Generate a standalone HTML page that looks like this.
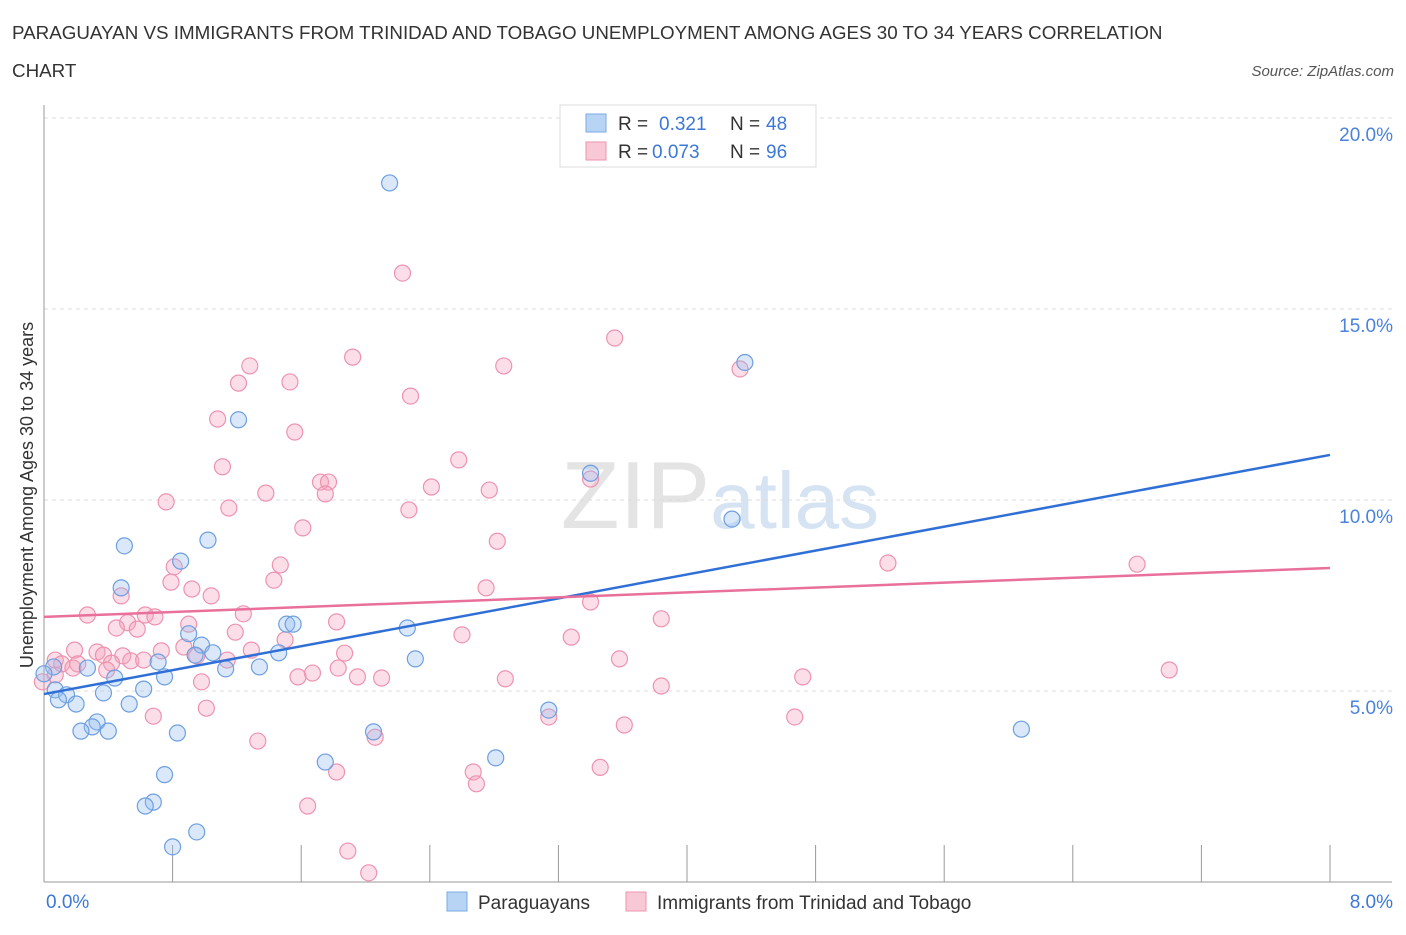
<!DOCTYPE html>
<html><head><meta charset="utf-8"><style>
body{margin:0;background:#fff;font-family:"Liberation Sans",sans-serif;}
svg text{font-family:"Liberation Sans",sans-serif;}
</style></head><body>
<svg id="c" width="1406" height="930">
<text x="12" y="39" font-size="18.8" fill="#333">PARAGUAYAN VS IMMIGRANTS FROM TRINIDAD AND TOBAGO UNEMPLOYMENT AMONG AGES 30 TO 34 YEARS CORRELATION</text>
<text x="12" y="77" font-size="18.8" fill="#333">CHART</text>
<text x="1394" y="76" font-size="15" fill="#555" font-style="italic" text-anchor="end">Source: ZipAtlas.com</text>
<text x="720" y="528" font-size="96" fill="#e4e4e4" text-anchor="middle" font-family="Liberation Serif">ZIP<tspan fill="#d5e3f3" font-family="Liberation Sans" font-size="80">atlas</tspan></text>
<text transform="translate(33,495) rotate(-90)" font-size="18" fill="#333" text-anchor="middle">Unemployment Among Ages 30 to 34 years</text>
<g id="grid"></g><g id="pts"></g><g id="lines"></g>
<g>
<rect x="560" y="105" width="256" height="62" fill="#fff" stroke="#ddd"/>
<rect x="586" y="114" width="20" height="18" fill="#b8d4f5" stroke="#7aaae6"/>
<text x="618" y="130" font-size="19" fill="#333">R =</text>
<text x="659" y="130" font-size="19" fill="#3b78d8">0.321</text>
<text x="730" y="130" font-size="19" fill="#333">N =</text>
<text x="766" y="130" font-size="19" fill="#3b78d8">48</text>
<rect x="586" y="142" width="20" height="18" fill="#f8c8d6" stroke="#ee93ae"/>
<text x="618" y="158" font-size="19" fill="#333">R =</text>
<text x="652" y="158" font-size="19" fill="#3b78d8">0.073</text>
<text x="730" y="158" font-size="19" fill="#333">N =</text>
<text x="766" y="158" font-size="19" fill="#3b78d8">96</text>
</g>
<g>
<rect x="447" y="892" width="20" height="19" fill="#b8d4f5" stroke="#7aaae6"/>
<text x="478" y="909" font-size="19" fill="#333">Paraguayans</text>
<rect x="626" y="892" width="20" height="19" fill="#f8c8d6" stroke="#ee93ae"/>
<text x="657" y="909" font-size="19" fill="#333">Immigrants from Trinidad and Tobago</text>
</g>
</svg>
<script>
const xTicks=[0,0.8,1.6,2.4,3.2,4.0,4.8,5.6,6.4,7.2,8.0];
const yTicks=[5,10,15,20];
const blueX=[2.15,1.21,4.36,3.40,4.28,0.50,1.02,0.85,0.48,0.90,0.98,1.51,1.55,2.26,1.05,1.46,0.71,0.94,1.13,1.34,0.27,2.31,0.44,0.75,0.06,0.0,0.07,0.62,0.37,0.14,0.09,0.20,0.53,0.33,0.30,0.23,0.40,0.83,2.05,3.14,6.08,2.81,1.75,0.75,0.68,0.63,0.95,0.80];
const blueY=[18.3,12.1,13.6,10.7,9.5,8.8,8.95,8.4,7.7,6.5,6.2,6.75,6.75,6.65,6.0,6.0,5.76,5.94,5.58,5.63,5.6,5.84,5.34,5.37,5.63,5.45,5.03,5.05,4.95,4.9,4.77,4.66,4.66,4.19,4.06,3.95,3.95,3.9,3.93,4.5,4.0,3.25,3.14,2.81,2.09,1.99,1.31,0.92];
const pinkX=[2.23,3.55,1.92,2.86,1.28,1.53,1.21,4.33,2.28,1.08,1.56,1.11,2.58,1.72,1.77,1.75,1.38,2.41,2.77,3.40,0.76,1.15,2.27,1.61,2.82,5.25,6.80,1.47,0.81,0.79,1.43,0.92,2.75,1.04,0.48,3.40,0.27,0.63,1.24,0.69,1.82,0.52,0.45,0.90,0.58,1.19,2.6,3.28,3.84,1.50,0.19,0.33,0.37,0.49,1.87,0.73,0.87,0.07,0.21,0.11,0.42,0.54,0.62,0.95,1.14,0.18,0.39,1.29,1.83,7.0,0.07,-0.01,0.98,1.58,1.67,1.95,2.10,2.87,4.72,3.58,3.84,1.01,0.68,3.14,4.67,3.61,2.06,1.33,1.82,2.67,2.69,3.46,1.64,1.89,2.02];
const pinkY=[15.94,14.24,13.74,13.51,13.51,13.09,13.06,13.43,12.72,12.12,11.78,10.87,11.05,10.47,10.47,10.16,10.18,10.34,10.26,10.55,9.95,9.79,9.74,9.27,8.92,8.35,8.32,8.3,8.25,7.85,7.9,7.67,7.7,7.49,7.49,7.33,6.99,6.99,7.02,6.94,6.81,6.79,6.65,6.75,6.62,6.54,6.47,6.41,6.89,6.34,6.07,6.02,5.94,5.92,5.99,6.05,6.15,5.81,5.71,5.71,5.73,5.79,5.81,5.92,5.81,5.6,5.55,6.07,5.6,5.55,5.42,5.24,5.24,5.37,5.47,5.37,5.34,5.32,5.37,5.84,5.13,4.55,4.34,4.32,4.32,4.11,3.79,3.69,2.88,2.88,2.57,3.0,1.99,0.81,0.24];
const blueLine=[4.92,11.18];
const pinkLine=[6.94,8.22];
const X=v=>44+v*160.75, Y=v=>882-v*38.2;
const ns="http://www.w3.org/2000/svg";
function mk(t,a,p){const e=document.createElementNS(ns,t);for(const k in a)e.setAttribute(k,a[k]);p.appendChild(e);return e;}
const g=document.getElementById('grid');
yTicks.forEach(t=>{
 const l=mk('line',{x1:44,x2:1392,y1:Y(t),y2:Y(t),stroke:'#ddd','stroke-dasharray':'4,4'},g);
 
 
 const tx=mk('text',{x:1393,y:Y(t)+23,'font-size':19,fill:'#4a82dc','text-anchor':'end'},g);
 tx.textContent=t.toFixed(1)+'%';
 
 
});
const ax=mk('line',{x1:44,x2:44,y1:105,y2:882,stroke:'#999'},g);


const bx=mk('line',{x1:44,x2:1392,y1:882,y2:882,stroke:'#999'},g);


xTicks.forEach(t=>{
 const l=mk('line',{x1:X(t),x2:X(t),y1:845,y2:882,stroke:'#999'},g);
 
 
});
[[0,'start',46],[8,'end',1393]].forEach(([t,a,x])=>{
 const tx=mk('text',{x:x,y:908,'font-size':19,fill:'#3b78d8','text-anchor':a},g);
 tx.textContent=t.toFixed(1)+'%';
 
 
});
const p=document.getElementById('pts');
pinkX.forEach((x,i)=>{
 const c=mk('circle',{cx:X(x),cy:Y(pinkY[i]),r:8,fill:'rgba(244,160,188,0.35)',stroke:'#ee93ae','stroke-width':1.2},p);
 
 
});
blueX.forEach((x,i)=>{
 const c=mk('circle',{cx:X(x),cy:Y(blueY[i]),r:8,fill:'rgba(150,190,240,0.35)',stroke:'#6d9fe0','stroke-width':1.2},p);
 
 
});
const L=document.getElementById('lines');
const b=mk('line',{x1:X(0),y1:Y(blueLine[0]),x2:X(8),y2:Y(blueLine[1]),stroke:'#2f6fd6','stroke-width':2.5},L);


const q=mk('line',{x1:X(0),y1:Y(pinkLine[0]),x2:X(8),y2:Y(pinkLine[1]),stroke:'#e8709a','stroke-width':2.5},L);


</script>
</body></html>
